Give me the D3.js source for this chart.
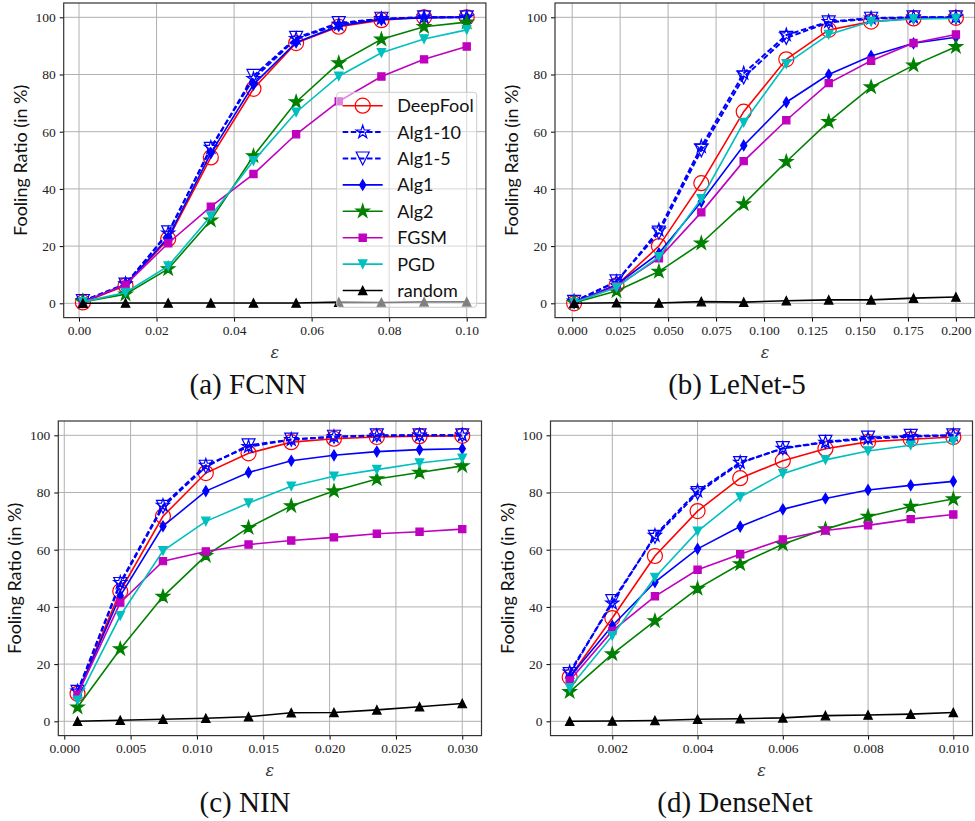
<!DOCTYPE html>
<html>
<head>
<meta charset="utf-8">
<script src="https://cdn.jsdelivr.net/npm/d3@7"></script>
<style>
  body { margin: 0; background: #fff; }
  svg { display: block; }
</style>
</head>
<body>
<svg id="fig"></svg>
<script>
// ---- data -------------------------------------------------------------
const methods = ['DeepFool', 'Alg1-10', 'Alg1-5', 'Alg1', 'Alg2', 'FGSM', 'PGD', 'random'];
const yTicks = [0, 20, 40, 60, 80, 100];

// (a) FCNN
const epsFcnn = [0.001, 0.012, 0.023, 0.034, 0.045, 0.056, 0.067, 0.078, 0.089, 0.100];
const xTicksFcnn = [0.00, 0.02, 0.04, 0.06, 0.08, 0.10];
const fcnnDeepFool = [0.3, 6.2, 22.5, 51.0, 75.0, 91.0, 96.7, 99.0, 100, 100];
const fcnnAlg1_10 = [0.8, 6.8, 24.5, 54.5, 78.5, 92.5, 97.5, 99.5, 100, 100];
const fcnnAlg1_5 = [0.8, 6.5, 24.8, 54.0, 79.5, 92.8, 98.0, 99.5, 100, 100];
const fcnnAlg1 = [0.5, 6.5, 23.0, 52.5, 76.5, 91.2, 97.0, 99.3, 99.8, 100];
const fcnnAlg2 = [0.5, 3.2, 12.0, 29.0, 51.5, 70.4, 84.0, 92.3, 96.7, 98.3];
const fcnnFgsm = [0.5, 6.5, 21.0, 33.8, 45.2, 59.1, 70.6, 79.3, 85.3, 89.8];
const fcnnPgd = [0.5, 3.8, 13.0, 30.5, 49.8, 66.8, 79.4, 87.6, 92.4, 95.6];
const fcnnRandom = [0.0, 0.1, 0.1, 0.1, 0.1, 0.1, 0.4, 0.3, 0.5, 0.5];

// (b) LeNet-5
const epsLenet = [0.001, 0.0231, 0.0452, 0.0673, 0.0894, 0.1116, 0.1337, 0.1558, 0.1779, 0.200];
const xTicksLenet = [0.000, 0.025, 0.050, 0.075, 0.100, 0.125, 0.150, 0.175, 0.200];
const lenetDeepFool = [0.0, 6.3, 20.0, 42.0, 67.0, 85.3, 95.6, 98.5, 99.6, 99.8];
const lenetAlg1_10 = [0.7, 7.5, 25.6, 54.8, 80.4, 93.8, 98.5, 99.7, 100, 100];
const lenetAlg1_5 = [0.5, 7.7, 24.7, 53.5, 79.0, 92.8, 98.2, 99.5, 100, 100];
const lenetAlg1 = [0.3, 6.5, 17.5, 35.5, 55.2, 70.3, 80.0, 86.5, 90.9, 93.0];
const lenetAlg2 = [0.2, 4.3, 11.1, 21.0, 34.7, 49.5, 63.5, 75.6, 83.2, 89.7];
const lenetFgsm = [0.3, 6.0, 15.7, 31.8, 49.7, 64.0, 77.0, 84.8, 91.0, 94.0];
const lenetPgd = [0.3, 5.5, 16.3, 36.5, 63.2, 83.7, 94.0, 98.5, 99.4, 99.6];
const lenetRandom = [0.0, 0.2, 0.1, 0.6, 0.4, 0.9, 1.2, 1.2, 1.8, 2.2];

// (c) NIN
const epsNin = [0.001, 0.00422, 0.00744, 0.01067, 0.01389, 0.01711, 0.02033, 0.02356, 0.02678, 0.030];
const xTicksNin = [0.000, 0.005, 0.010, 0.015, 0.020, 0.025, 0.030];
const ninDeepFool = [9.6, 45.5, 71.7, 86.8, 93.7, 97.6, 98.8, 99.4, 99.7, 99.8];
const ninAlg1_10 = [10.5, 48.5, 75.5, 89.5, 96.0, 98.5, 99.5, 99.8, 100, 100];
const ninAlg1_5 = [10.3, 48.0, 75.0, 89.0, 96.5, 98.5, 99.5, 100, 100, 100];
const ninAlg1 = [9.5, 43.9, 68.2, 80.5, 87.0, 91.1, 93.0, 94.3, 95.0, 95.3];
const ninAlg2 = [4.9, 25.3, 43.6, 57.9, 67.7, 75.3, 80.5, 84.7, 87.0, 89.3];
const ninFgsm = [9.3, 41.5, 56.0, 59.4, 61.8, 63.2, 64.3, 65.6, 66.3, 67.2];
const ninPgd = [7.3, 36.9, 59.6, 69.9, 76.3, 82.2, 85.7, 88.0, 90.3, 92.0];
const ninRandom = [0.0, 0.35, 0.7, 1.05, 1.6, 3.0, 3.1, 4.0, 5.1, 6.2];

// (d) DenseNet
const epsDense = [0.001, 0.002, 0.003, 0.004, 0.005, 0.006, 0.007, 0.008, 0.009, 0.010];
const xTicksDense = [0.002, 0.004, 0.006, 0.008, 0.010];
const denseDeepFool = [15.4, 36.1, 57.8, 73.5, 85.0, 91.1, 95.3, 97.7, 98.6, 99.4];
const denseAlg1_10 = [17.2, 41.3, 65.0, 80.5, 90.5, 95.4, 97.5, 98.8, 99.5, 100];
const denseAlg1_5 = [16.5, 42.0, 64.5, 79.8, 90.3, 95.5, 97.7, 99.2, 99.8, 100];
const denseAlg1 = [15.5, 33.4, 48.7, 60.3, 68.1, 74.1, 77.9, 80.9, 82.5, 83.9];
const denseAlg2 = [10.3, 23.5, 35.1, 46.4, 55.0, 61.9, 67.2, 71.6, 75.1, 77.7];
const denseFgsm = [14.3, 31.6, 43.7, 53.0, 58.4, 63.6, 66.7, 68.5, 70.7, 72.3];
const densePgd = [11.7, 29.9, 50.3, 66.4, 78.4, 86.6, 91.4, 94.5, 96.5, 97.9];
const denseRandom = [0.0, 0.1, 0.3, 0.7, 0.9, 1.2, 2.0, 2.2, 2.5, 3.1];

// ---- styling ----------------------------------------------------------
const W = 975, H = 821;
const styles = {
  'DeepFool': { color: '#ff0000', dash: null, marker: 'circle', size: 7.5, fill: 'none', lw: 1.6 },
  'Alg1-10': { color: '#0000ff', dash: '5.5,2.6', marker: 'star', size: 6.8, fill: 'none', lw: 2 },
  'Alg1-5': { color: '#0000ff', dash: '5.5,2.6', marker: 'triDown', size: 6.5, fill: 'none', lw: 2 },
  'Alg1': { color: '#0000ff', dash: null, marker: 'thinDiamond', size: 5.2, fill: '#0000ff', lw: 1.6 },
  'Alg2': { color: '#008000', dash: null, marker: 'star', size: 7, fill: '#008000', lw: 1.6 },
  'FGSM': { color: '#bf00bf', dash: null, marker: 'square', size: 3.6, fill: '#bf00bf', lw: 1.6 },
  'PGD': { color: '#00bfbf', dash: null, marker: 'triDown', size: 4.2, fill: '#00bfbf', lw: 1.6 },
  'random': { color: '#000000', dash: null, marker: 'triUp', size: 4.2, fill: '#000000', lw: 1.6 }
};

function markerPath(type, s) {
  if (type === 'circle') {
    const p = d3.path(); p.arc(0, 0, s, 0, 2 * Math.PI); p.closePath(); return p.toString();
  }
  if (type === 'square') return `M${-s},${-s}H${s}V${s}H${-s}Z`;
  if (type === 'triDown') return `M0,${s}L${-s},${-s}L${s},${-s}Z`;
  if (type === 'triUp') return `M0,${-s}L${-s},${s}L${s},${s}Z`;
  if (type === 'thinDiamond') return `M0,${-s}L${s * 0.6},0L0,${s}L${-s * 0.6},0Z`;
  if (type === 'star') {
    const pts = [];
    for (let i = 0; i < 10; i++) {
      const r = i % 2 === 0 ? s : s * 0.382;
      const a = -Math.PI / 2 + i * Math.PI / 5;
      pts.push([r * Math.cos(a), r * Math.sin(a)]);
    }
    return 'M' + pts.map(p => p.join(',')).join('L') + 'Z';
  }
}

const panels = [
  { caption: '(a) FCNN', eps: epsFcnn, xTicks: xTicksFcnn, fmt: '.2f',
    series: [fcnnDeepFool, fcnnAlg1_10, fcnnAlg1_5, fcnnAlg1, fcnnAlg2, fcnnFgsm, fcnnPgd, fcnnRandom],
    left: 63.7, right: 485.9, top: 3, capX: 248, legend: true },
  { caption: '(b) LeNet-5', eps: epsLenet, xTicks: xTicksLenet, fmt: '.3f',
    series: [lenetDeepFool, lenetAlg1_10, lenetAlg1_5, lenetAlg1, lenetAlg2, lenetFgsm, lenetPgd, lenetRandom],
    left: 555, right: 975, top: 3, capX: 737 },
  { caption: '(c) NIN', eps: epsNin, xTicks: xTicksNin, fmt: '.3f',
    series: [ninDeepFool, ninAlg1_10, ninAlg1_5, ninAlg1, ninAlg2, ninFgsm, ninPgd, ninRandom],
    left: 58.3, right: 481.5, top: 421, capX: 245 },
  { caption: '(d) DenseNet', eps: epsDense, xTicks: xTicksDense, fmt: '.3f',
    series: [denseDeepFool, denseAlg1_10, denseAlg1_5, denseAlg1, denseAlg2, denseFgsm, densePgd, denseRandom],
    left: 550.5, right: 972.5, top: 421, capX: 735 }
];
const plotH = 314.6;

const svg = d3.select('#fig').attr('width', W).attr('height', H);

panels.forEach(p => {
  const w = p.right - p.left;
  const lo = d3.min(p.eps), hi = d3.max(p.eps), pad = (hi - lo) * 0.05;
  const x = d3.scaleLinear().domain([lo - pad, hi + pad]).range([0, w]);
  const y = d3.scaleLinear().domain([-5, 105]).range([plotH, 0]);

  const g = svg.append('g').attr('transform', `translate(${p.left},${p.top})`);

  // grid
  g.append('g').selectAll('line.gx').data(p.xTicks).enter().append('line')
    .attr('x1', d => x(d)).attr('x2', d => x(d)).attr('y1', 0).attr('y2', plotH)
    .attr('stroke', '#b0b0b0').attr('stroke-width', 1);
  g.append('g').selectAll('line.gy').data(yTicks).enter().append('line')
    .attr('x1', 0).attr('x2', w).attr('y1', d => y(d)).attr('y2', d => y(d))
    .attr('stroke', '#b0b0b0').attr('stroke-width', 1);

  // axes
  const xAxis = g.append('g').attr('transform', `translate(0,${plotH})`)
    .call(d3.axisBottom(x).tickValues(p.xTicks).tickFormat(d3.format(p.fmt)).tickSize(4).tickPadding(4));
  const yAxis = g.append('g')
    .call(d3.axisLeft(y).tickValues(yTicks).tickSize(4).tickPadding(4));
  [xAxis, yAxis].forEach(a => {
    a.select('.domain').remove();
    a.selectAll('line').attr('stroke', '#000').attr('stroke-width', 1);
    a.selectAll('text').attr('font-family', '"Liberation Serif", serif')
      .attr('font-size', '13.5px').attr('fill', '#222');
  });

  // series
  p.series.forEach((vals, i) => {
    const st = styles[methods[i]];
    const pts = vals.map((v, j) => [p.eps[j], v]);
    g.append('path').datum(pts)
      .attr('d', d3.line().x(d => x(d[0])).y(d => y(d[1])))
      .attr('fill', 'none').attr('stroke', st.color).attr('stroke-width', st.lw)
      .attr('stroke-dasharray', st.dash);
    g.append('g').selectAll('path').data(pts).enter().append('path')
      .attr('transform', d => `translate(${x(d[0])},${y(d[1])})`)
      .attr('d', markerPath(st.marker, st.size))
      .attr('fill', st.fill).attr('stroke', st.color).attr('stroke-width', 1.2);
  });

  // frame
  g.append('rect').attr('width', w).attr('height', plotH)
    .attr('fill', 'none').attr('stroke', '#333').attr('stroke-width', 1.2);

  // labels
  g.append('text').attr('x', w / 2).attr('y', plotH + 40)
    .attr('text-anchor', 'middle').attr('font-family', '"DejaVu Serif", serif')
    .attr('font-style', 'italic').attr('font-size', '16px').attr('fill', '#333').text('ε');
  g.append('text').attr('transform', `translate(-44,${plotH / 2}) rotate(-90)`)
    .attr('text-anchor', 'middle').attr('dominant-baseline', 'central')
    .attr('font-family', 'Lato, sans-serif').attr('font-size', '18px').attr('fill', '#111')
    .text('Fooling Ratio (in %)');
  svg.append('text').attr('x', p.capX).attr('y', p.top + 390.5)
    .attr('text-anchor', 'middle').attr('font-family', '"Liberation Serif", serif')
    .attr('font-size', '29px').attr('fill', '#111').text(p.caption);

  // legend
  if (p.legend) {
    const lg = g.append('g').attr('transform', 'translate(273,89.3)');
    lg.append('rect').attr('width', 140).attr('height', 215).attr('rx', 3)
      .attr('fill', '#fff').attr('fill-opacity', 0.5)
      .attr('stroke', '#cccccc').attr('stroke-width', 1);
    methods.forEach((m, i) => {
      const st = styles[m];
      const cy = 13.4 + i * 26.4;
      lg.append('line').attr('x1', 6).attr('x2', 46).attr('y1', cy).attr('y2', cy)
        .attr('stroke', st.color).attr('stroke-width', st.lw).attr('stroke-dasharray', st.dash);
      lg.append('path').attr('transform', `translate(26,${cy})`)
        .attr('d', markerPath(st.marker, st.size))
        .attr('fill', st.fill).attr('stroke', st.color).attr('stroke-width', 1.2);
      lg.append('text').attr('x', 60.6).attr('y', cy + 6.5)
        .attr('font-family', 'Lato, sans-serif').attr('font-size', '18px').attr('fill', '#111')
        .text(m);
    });
  }
});
</script>
</body>
</html>
